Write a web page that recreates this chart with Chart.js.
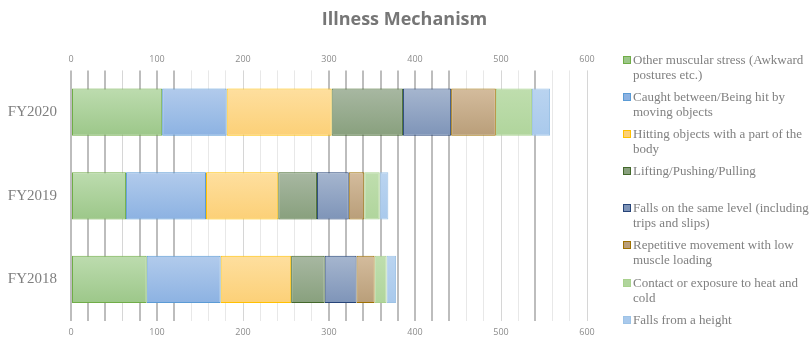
<!DOCTYPE html>
<html lang="en">
  <head>
    <meta charset="UTF-8" />
    <title>Illness Mechanism</title>
    <script src="https://cdn.jsdelivr.net/npm/chart.js"></script>
    <style>
      body { margin: 0; background: #fff; }
      .wrap { position: relative; width: 809px; height: 353px; }
      #legend {
        position: absolute; left: 622px; top: 52px; width: 192px;
        font-family: "Liberation Serif", serif; font-size: 13px; line-height: 15px; color: #808080;
      }
      #legend .item { position: relative; height: 37.1px; padding-left: 11px; }
      #legend .box { position: absolute; left: 1px; top: 4px; width: 6px; height: 6px; border: 1px solid; }
    </style>
  </head>
  <body>
    <div class="wrap">
      <canvas id="illnessChart" width="809" height="353"></canvas>
      <div id="legend"></div>
    </div>

    <script>
      const years = ['FY2020', 'FY2019', 'FY2018'];
      const mechanisms = [
        'Other muscular stress (Awkward postures etc.)',
        'Caught between/Being hit by moving objects',
        'Hitting objects with a part of the body',
        'Lifting/Pushing/Pulling',
        'Falls on the same level (including trips and slips)',
        'Repetitive movement with low muscle loading',
        'Contact or exposure to heat and cold',
        'Falls from a height'
      ];
      const otherMuscular = [106, 64, 88];
      const caughtBetween = [75, 93, 86];
      const hittingObjects = [122, 84, 82];
      const lifting = [83, 45, 39];
      const fallsSameLevel = [56, 37, 37];
      const repetitive = [52, 18, 21];
      const heatCold = [42, 18, 14];
      const fallsHeight = [21, 10, 11];
      const xTicks = [0, 100, 200, 300, 400, 500, 600];

      const seriesValues = [otherMuscular, caughtBetween, hittingObjects, lifting,
                            fallsSameLevel, repetitive, heatCold, fallsHeight];
      // top colour, bottom colour, border
      const palette = [
        ['#bddcaf', '#9cc789', '#70ad47'],
        ['#b2cbec', '#8cb2e2', '#5b9bd5'],
        ['#fedf9f', '#fcd077', '#ffc000'],
        ['#a8b8a2', '#88a07d', '#43682b'],
        ['#a6b6cf', '#7e94b8', '#264478'],
        ['#d4bc9d', '#b99e79', '#9e7000'],
        ['#bfdeae', '#b0d59c', '#a9d18e'],
        ['#bad4f0', '#a9c9ec', '#9dc3e6']
      ];

      // lines that Excel drew darker in the original
      const darkLines = [0, 20, 40, 80, 100, 120, 300, 320, 340, 360, 380, 400, 420, 440, 540];
      const midLines = [60, 200, 500, 600];

      function barFill(i) {
        return (c) => {
          const y = c.chart.scales.y;
          if (c.type !== 'data' || !y) return palette[i][1];
          const mid = y.getPixelForValue(c.dataIndex);
          if (!Number.isFinite(mid)) return palette[i][1];
          const g = c.chart.ctx.createLinearGradient(0, mid - 24, 0, mid + 24);
          g.addColorStop(0, palette[i][0]);
          g.addColorStop(1, palette[i][1]);
          return g;
        };
      }

      const datasets = mechanisms.map((name, i) => ({
        label: name,
        data: seriesValues[i],
        backgroundColor: barFill(i),
        borderColor: palette[i][2],
        borderWidth: 1,
        borderSkipped: false,
        barPercentage: 0.565,
        categoryPercentage: 1
      }));

      const tickFont = { family: 'Open Sans', size: 9 };
      const tickCb = (v) => (xTicks.includes(v) ? v : '');

      const ctx = document.getElementById('illnessChart').getContext('2d');
      const chart = new Chart(ctx, {
        type: 'bar',
        data: { labels: years, datasets: datasets },
        options: {
          indexAxis: 'y',
          responsive: false,
          animation: false,
          layout: { padding: { bottom: 9 } },
          plugins: {
            legend: { display: false },
            tooltip: { enabled: false },
            title: {
              display: true,
              text: 'Illness Mechanism',
              color: '#767676',
              font: { family: 'Open Sans', size: 18, weight: 'bold' },
              padding: { top: 9, bottom: 17 }
            }
          },
          scales: {
            x: {
              stacked: true, min: 0, max: 600, position: 'bottom',
              border: { display: false },
              grid: {
                drawTicks: false,
                color: (c) => darkLines.includes(c.tick.value) ? '#bdbdbd'
                  : midLines.includes(c.tick.value) ? '#d6d6d6' : '#e8e8e8',
                lineWidth: (c) => darkLines.includes(c.tick.value) ? 2 : 1
              },
              ticks: { stepSize: 20, autoSkip: false, maxRotation: 0, padding: 6,
                       color: '#8c8c8c', font: tickFont, callback: tickCb }
            },
            x2: {
              min: 0, max: 600, position: 'top',
              border: { display: false },
              grid: { display: false, drawTicks: false },
              ticks: { stepSize: 20, autoSkip: false, maxRotation: 0, padding: 6,
                       color: '#8c8c8c', font: tickFont, callback: tickCb }
            },
            y: {
              stacked: true,
              border: { display: false },
              grid: { display: false, drawTicks: false },
              ticks: { padding: 14, color: '#7f7f7f',
                       font: { family: 'Liberation Serif', size: 15 } },
              afterFit: (s) => { s.width = 71; }
            },
            yRight: {
              type: 'linear', position: 'right', min: 0, max: 1,
              border: { display: false },
              grid: { display: false, drawTicks: false },
              ticks: { display: false },
              afterFit: (s) => { s.width = 222; }
            }
          }
        }
      });

      // legend with wrapped text, built from the chart's datasets
      const legendEl = document.getElementById('legend');
      chart.data.datasets.forEach((ds, i) => {
        const item = document.createElement('div');
        item.className = 'item';
        const box = document.createElement('span');
        box.className = 'box';
        box.style.background = palette[i][1];
        box.style.borderColor = palette[i][2];
        item.appendChild(box);
        item.appendChild(document.createTextNode(ds.label));
        legendEl.appendChild(item);
      });
    </script>
  </body>
</html>
